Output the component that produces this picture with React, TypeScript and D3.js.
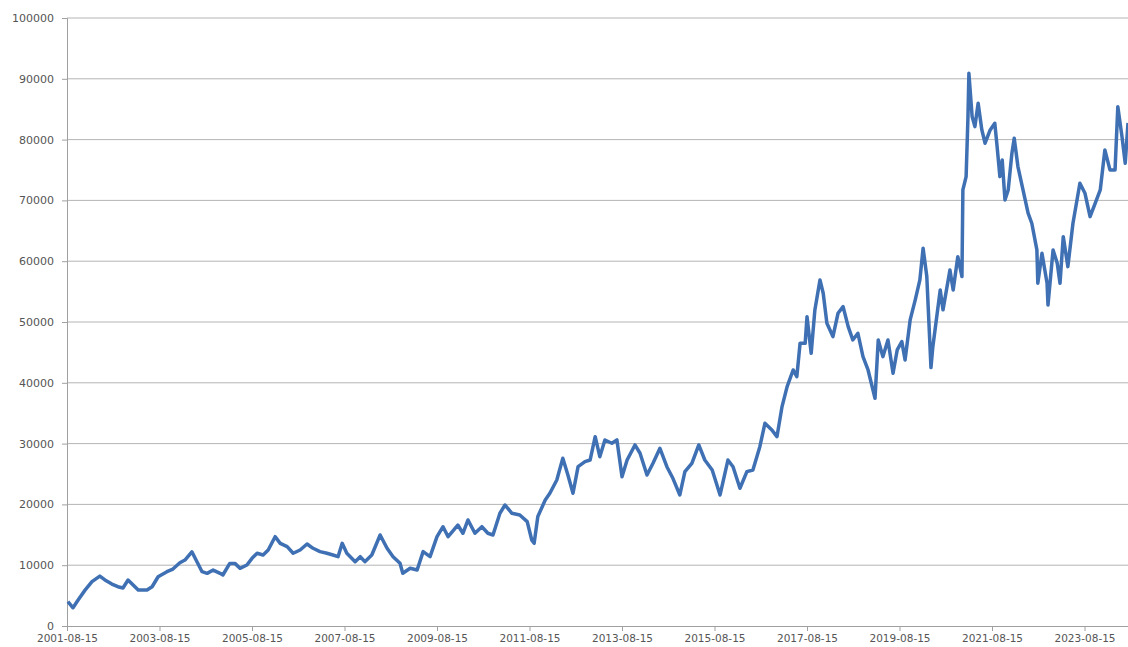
import React, { useEffect, useRef } from 'react';
import * as d3 from 'd3';

// decimal years (2001-08-15 = 2001.62)
const years = [
  2001.64, 2001.75, 2001.86, 2002.01, 2002.16, 2002.33, 2002.44, 2002.59, 2002.72, 2002.83,
  2002.94, 2003.05, 2003.16, 2003.35, 2003.46, 2003.59, 2003.78, 2003.91, 2004.06, 2004.17,
  2004.32, 2004.43, 2004.54, 2004.65, 2004.78, 2004.93, 2004.99, 2005.14, 2005.25, 2005.36,
  2005.51, 2005.62, 2005.73, 2005.86, 2005.97, 2006.12, 2006.23, 2006.38, 2006.51, 2006.66,
  2006.81, 2006.94, 2007.09, 2007.24, 2007.37, 2007.48, 2007.57, 2007.67, 2007.85, 2007.96,
  2008.06, 2008.21, 2008.39, 2008.54, 2008.67, 2008.82, 2008.88, 2009.04, 2009.19, 2009.32,
  2009.47, 2009.62, 2009.75, 2009.86, 2010.07, 2010.18, 2010.29, 2010.44, 2010.59, 2010.72,
  2010.83, 2010.98, 2011.09, 2011.24, 2011.41, 2011.57, 2011.67, 2011.72, 2011.80, 2011.96,
  2012.06, 2012.21, 2012.34, 2012.45, 2012.56, 2012.67, 2012.82, 2012.93, 2013.04, 2013.14,
  2013.25, 2013.40, 2013.51, 2013.62, 2013.73, 2013.90, 2014.01, 2014.16, 2014.29, 2014.44,
  2014.59, 2014.72, 2014.87, 2014.98, 2015.13, 2015.28, 2015.41, 2015.57, 2015.74, 2015.91,
  2016.02, 2016.17, 2016.32, 2016.45, 2016.60, 2016.71, 2016.86, 2016.97, 2017.08, 2017.19,
  2017.32, 2017.40, 2017.47, 2017.58, 2017.62, 2017.71, 2017.79, 2017.90, 2017.97, 2018.05,
  2018.18, 2018.29, 2018.40, 2018.51, 2018.61, 2018.72, 2018.83, 2018.94, 2019.09, 2019.16,
  2019.26, 2019.37, 2019.48, 2019.57, 2019.67, 2019.74, 2019.85, 2019.96, 2020.06, 2020.13,
  2020.21, 2020.30, 2020.34, 2020.50, 2020.56, 2020.71, 2020.78, 2020.88, 2020.97, 2020.99,
  2021.06, 2021.10, 2021.12, 2021.19, 2021.25, 2021.32, 2021.40, 2021.47, 2021.58, 2021.68,
  2021.73, 2021.79, 2021.84, 2021.90, 2021.97, 2022.05, 2022.10, 2022.18, 2022.29, 2022.40,
  2022.48, 2022.59, 2022.61, 2022.70, 2022.81, 2022.83, 2022.94, 2023.03, 2023.09, 2023.16,
  2023.26, 2023.37, 2023.52, 2023.63, 2023.74, 2023.85, 2023.96, 2024.06, 2024.17, 2024.28,
  2024.34, 2024.43, 2024.50, 2024.56,
];

const values = [
  4000, 3000, 4280, 5900, 7300, 8200, 7570, 6900, 6460, 6250,
  7570, 6750, 5920, 5920, 6460, 8100, 8930, 9370, 10400, 10850,
  12200, 10570, 8930, 8660, 9200, 8660, 8390, 10300, 10300, 9490,
  10030, 11130, 11960, 11680, 12500, 14690, 13600, 13050, 11960, 12500,
  13490, 12780, 12230, 11960, 11680, 11400, 13600, 11960, 10580, 11400,
  10580, 11680, 14970, 12780, 11400, 10310, 8670, 9490, 9210, 12230,
  11400, 14690, 16330, 14690, 16610, 15250, 17440, 15250, 16330, 15250,
  14970, 18540, 19900, 18540, 18260, 17160, 14100, 13600, 18000, 20730,
  21830, 24020, 27590, 24840, 21830, 26200, 27030, 27300, 31140, 27850,
  30600, 30050, 30600, 24560, 27300, 29780, 28410, 24840, 26760, 29230,
  26200, 24290, 21550, 25380, 26760, 29780, 27300, 25660, 21550, 27300,
  26200, 22650, 25380, 25660, 29500, 33340, 32240, 31140, 36090, 39370,
  42110, 41010, 46500, 46500, 50880, 44850, 51980, 56920, 54730, 49800,
  47600, 51430, 52530, 49240, 47050, 48150, 44300, 42110, 37450, 47050,
  44300, 47050, 41560, 45400, 46770, 43760, 50340, 53630, 56920, 62130,
  57470, 42500, 45900, 55270, 52000, 58560, 55270, 60750, 57470, 71720,
  73910, 83780, 90910, 83780, 82140, 85970, 81590, 79400, 81590, 82690,
  78850, 73910, 76660, 70080, 71720, 77750, 80220, 75570, 71720, 67890,
  66240, 61850, 56370, 61300, 56370, 52800, 61850, 59660, 56370, 64040,
  59110, 66240, 72820, 71170, 67330, 69520, 71720, 78300, 75010, 75010,
  85420, 80490, 76110, 82750,
];

const xTickYears = [2001.62, 2003.62, 2005.62, 2007.62, 2009.62, 2011.62, 2013.62, 2015.62, 2017.62, 2019.62, 2021.62, 2023.62];
const xTickLabels = [
  '2001-08-15', '2003-08-15', '2005-08-15', '2007-08-15', '2009-08-15', '2011-08-15',
  '2013-08-15', '2015-08-15', '2017-08-15', '2019-08-15', '2021-08-15', '2023-08-15',
];
const yTicks = [0, 10000, 20000, 30000, 40000, 50000, 60000, 70000, 80000, 90000, 100000];

const App: React.FC = () => {
  const ref = useRef<SVGSVGElement>(null);

  useEffect(() => {
    if (!ref.current) return;
    const svg = d3.select(ref.current);
    svg.selectAll('*').remove();

    const width = 1128;
    const height = 647;
    const left = 67;
    const right = 1128;
    const top = 18;
    const bottom = 626;

    const x = d3.scaleLinear().domain([2001.62, 2024.56]).range([left, right]);
    const y = d3.scaleLinear().domain([0, 100000]).range([bottom, top]);

    svg.attr('width', width).attr('height', height);
    svg.append('rect').attr('width', width).attr('height', height).attr('fill', '#fff');

    // gridlines
    svg.append('g')
      .selectAll('line')
      .data(yTicks.slice(1))
      .enter()
      .append('line')
      .attr('x1', left)
      .attr('x2', right)
      .attr('y1', d => y(d))
      .attr('y2', d => y(d))
      .attr('stroke', '#b4b4b4')
      .attr('stroke-width', 1);

    // y axis
    const yAxis = svg.append('g')
      .attr('transform', `translate(${left},0)`)
      .call(d3.axisLeft(y).tickValues(yTicks).tickSize(5).tickPadding(8).tickFormat(d => String(d)));
    yAxis.select('.domain').attr('stroke', '#a0a0a0');
    yAxis.selectAll('.tick line').attr('stroke', '#a0a0a0');
    yAxis.selectAll('.tick text')
      .attr('fill', '#555')
      .attr('font-family', 'DejaVu Sans, sans-serif')
      .attr('font-size', '11px');

    // x axis
    const xAxis = svg.append('g')
      .attr('transform', `translate(0,${bottom})`)
      .call(d3.axisBottom(x).tickValues(xTickYears).tickSize(5).tickPadding(4)
        .tickFormat((_, i) => xTickLabels[i]));
    xAxis.select('.domain').attr('stroke', '#a0a0a0');
    xAxis.selectAll('.tick line').attr('stroke', '#a0a0a0');
    xAxis.selectAll('.tick text')
      .attr('fill', '#555')
      .attr('font-family', 'DejaVu Sans, sans-serif')
      .attr('font-size', '10.5px');

    // series
    const pts = years.map((yr, i) => ({ yr, v: values[i] }));
    const line = d3.line<{ yr: number; v: number }>()
      .x(d => x(d.yr))
      .y(d => y(d.v));

    svg.append('path')
      .datum(pts)
      .attr('d', line)
      .attr('fill', 'none')
      .attr('stroke', '#3f70b3')
      .attr('stroke-width', 3.5)
      .attr('stroke-linejoin', 'round');
  }, []);

  return (
    <div style={{ position: 'fixed', left: 0, top: 0, width: 1128, height: 647, overflow: 'hidden', background: '#fff' }}>
      <svg ref={ref} style={{ display: 'block' }} />
    </div>
  );
};

export default App;
